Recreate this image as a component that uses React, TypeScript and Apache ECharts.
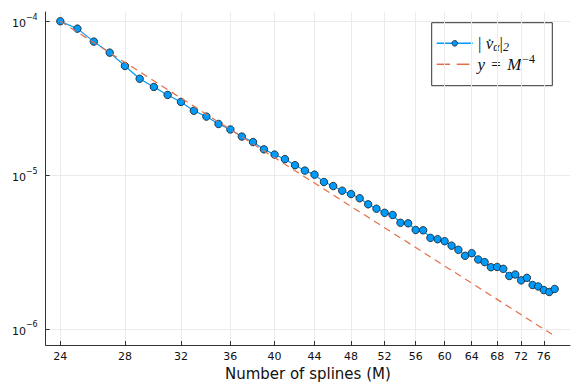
import React, { useEffect, useRef } from "react";
import * as echarts from "echarts";

const splines = [
  24, 25, 26, 27, 28, 29, 30, 31, 32, 33, 34, 35, 36, 37, 38, 39, 40, 41, 42, 43,
  44, 45, 46, 47, 48, 49, 50, 51, 52, 53, 54, 55, 56, 57, 58, 59, 60, 61, 62, 63,
  64, 65, 66, 67, 68, 69, 70, 71, 72, 73, 74, 75, 76, 77, 78,
];
const residual = [
  1.0e-4, 8.95e-5, 7.37e-5, 6.25e-5, 5.12e-5, 4.23e-5, 3.74e-5, 3.32e-5, 2.99e-5, 2.62e-5,
  2.4e-5, 2.15e-5, 1.98e-5, 1.78e-5, 1.64e-5, 1.47e-5, 1.36e-5, 1.27e-5, 1.16e-5, 1.07e-5,
  1.007e-5, 9.02e-6, 8.49e-6, 7.92e-6, 7.53e-6, 7.07e-6, 6.46e-6, 6.05e-6, 5.69e-6, 5.51e-6,
  4.9e-6, 4.86e-6, 4.4e-6, 4.38e-6, 3.91e-6, 3.83e-6, 3.72e-6, 3.48e-6, 3.27e-6, 2.99e-6,
  3.11e-6, 2.83e-6, 2.72e-6, 2.52e-6, 2.53e-6, 2.46e-6, 2.21e-6, 2.26e-6, 2.07e-6, 2.15e-6,
  1.93e-6, 1.89e-6, 1.79e-6, 1.74e-6, 1.82e-6,
];
const refM = [24, 78];
const refY = [1.0e-4, 9.0e-7];
const xTicks = [24, 28, 32, 36, 40, 44, 48, 52, 56, 60, 64, 68, 72, 76];
const yTickExponents = [-6, -5, -4];
const xRange = [23.18, 80.9];
const yRange = [7.87e-7, 1.148e-4];

const BLUE = "#009AFA";
const ORANGE = "#E36F47";
const L = Math.log10;

export default function App() {
  const ref = useRef<HTMLDivElement>(null);
  useEffect(() => {
    if (!ref.current) return;
    const chart = echarts.init(ref.current, undefined, { renderer: "svg" });
    const mainData = splines.map((m, i) => [L(m), L(residual[i])]);
    const refData = refM.map((m, i) => [L(m), L(refY[i])]);
    const serif = "Liberation Serif";
    chart.setOption({
      animation: false,
      backgroundColor: "#fff",
      grid: { left: 45.7, right: 11, top: 12, bottom: 43, containLabel: false },
      xAxis: {
        type: "value",
        min: L(xRange[0]),
        max: L(xRange[1]),
        name: "Number of splines (M)",
        nameLocation: "middle",
        nameGap: 20,
        nameTextStyle: { fontFamily: "DejaVu Sans", fontSize: 15, color: "#111" },
        axisLine: { onZero: false, lineStyle: { color: "#333", width: 1 } },
        axisTick: { inside: true, length: 4, customValues: xTicks.map(L), lineStyle: { color: "#333" } },
        axisLabel: {
          customValues: xTicks.map(L),
          formatter: (v: number) => String(Math.round(Math.pow(10, v))),
          fontFamily: "DejaVu Sans",
          fontSize: 11,
          color: "#111",
          margin: 6,
        },
        splitLine: { show: true, lineStyle: { color: "#ebebeb", width: 1 } },
      },
      yAxis: {
        type: "value",
        min: L(yRange[0]),
        max: L(yRange[1]),
        axisLine: { show: true, onZero: false, lineStyle: { color: "#333", width: 1 } },
        axisTick: { show: true, inside: true, length: 4, customValues: yTickExponents, lineStyle: { color: "#333" } },
        axisLabel: {
          customValues: yTickExponents,
          formatter: (v: number) => `{b|10}{s|\u2212${Math.round(-v)}}`,
          margin: 8,
          rich: {
            b: { fontFamily: "DejaVu Sans", fontSize: 11, color: "#111", lineHeight: 16, verticalAlign: "bottom" },
            s: { fontFamily: "DejaVu Sans", fontSize: 8, color: "#111", lineHeight: 16, verticalAlign: "top", padding: [0, 0, 0, 0] },
          },
        },
        splitLine: { show: true, lineStyle: { color: "#ebebeb", width: 1 } },
      },
      series: [
        {
          name: "residual",
          type: "line",
          data: mainData,
          symbol: "circle",
          symbolSize: 7.5,
          lineStyle: { color: BLUE, width: 1.2 },
          itemStyle: { color: BLUE, borderColor: "#1a1a1a", borderWidth: 0.8 },
          z: 2,
        },
        {
          name: "ref",
          type: "line",
          data: refData,
          symbol: "none",
          lineStyle: { color: ORANGE, width: 1.2, type: [7, 5] },
          z: 3,
        },
      ],
      graphic: [
        {
          type: "group",
          z: 100,
          children: [
            { type: "rect", shape: { x: 431.7, y: 22.7, width: 120.6, height: 63 }, style: { fill: "#fff", stroke: "#333", lineWidth: 1 } },
            { type: "line", shape: { x1: 436.7, y1: 43.3, x2: 472.7, y2: 43.3 }, style: { stroke: BLUE, lineWidth: 1.5 } },
            { type: "circle", shape: { cx: 454.7, cy: 43.3, r: 2.8 }, style: { fill: BLUE, stroke: "#1a1a1a", lineWidth: 0.8 } },
            { type: "line", shape: { x1: 436.7, y1: 64.3, x2: 450, y2: 64.3 }, style: { stroke: ORANGE, lineWidth: 1.5 } },
            { type: "line", shape: { x1: 456.7, y1: 64.3, x2: 469.5, y2: 64.3 }, style: { stroke: ORANGE, lineWidth: 1.5 } },
            {
              type: "text",
              x: 478,
              y: 43.3,
              style: {
                text: "{n|| }{i|v\u0307}{sub|\u03b1}{n||}{sub|2}",
                verticalAlign: "middle",
                rich: {
                  n: { fontFamily: serif, fontSize: 17, fill: "#111", lineHeight: 20, verticalAlign: "middle" },
                  i: { fontFamily: serif, fontStyle: "italic", fontSize: 17, fill: "#111", lineHeight: 20, verticalAlign: "middle" },
                  sub: { fontFamily: serif, fontStyle: "italic", fontSize: 12, fill: "#111", lineHeight: 20, verticalAlign: "bottom" },
                },
              },
            },
            {
              type: "text",
              x: 477.5,
              y: 64.3,
              style: {
                text: "{i|y}{n| = }{i|M}{sup|\u22124}",
                verticalAlign: "middle",
                rich: {
                  n: { fontFamily: serif, fontSize: 17, fill: "#111", lineHeight: 20, verticalAlign: "middle", padding: [0, 2, 0, 2] },
                  i: { fontFamily: serif, fontStyle: "italic", fontSize: 17, fill: "#111", lineHeight: 20, verticalAlign: "middle" },
                  sup: { fontFamily: serif, fontSize: 12, fill: "#111", lineHeight: 22, verticalAlign: "top", padding: [0, 0, 0, 1] },
                },
              },
            },
          ],
        },
      ],
    });
    return () => chart.dispose();
  }, []);
  return (
    <div
      ref={ref}
      style={{ position: "fixed", left: 0, top: 0, width: 581, height: 388, background: "#fff" }}
    />
  );
}
